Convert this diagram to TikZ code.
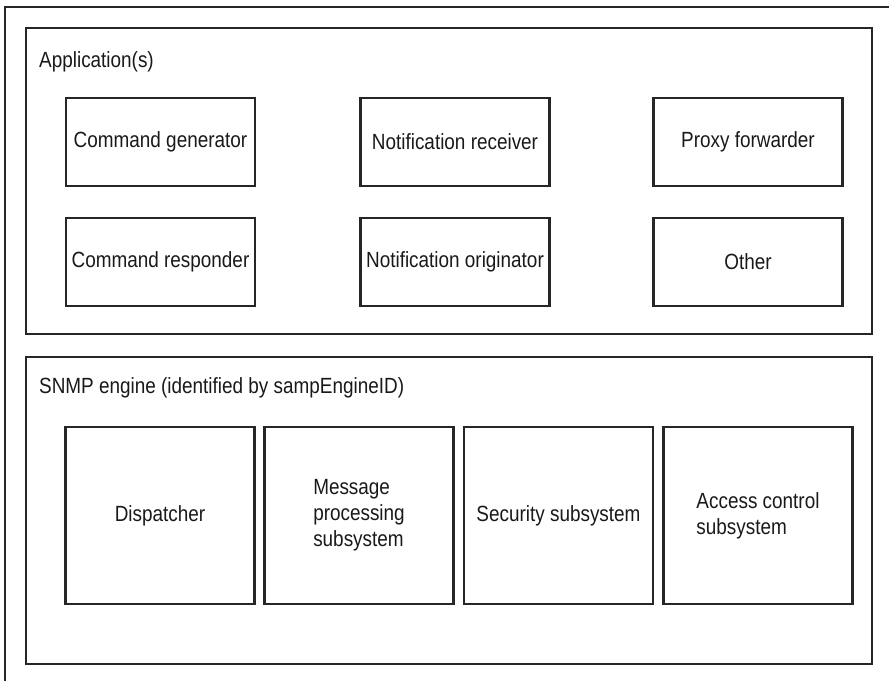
\documentclass[tikz,border=0pt]{standalone}
\usepackage{fontspec}
\setmainfont{Liberation Sans}[FakeStretch=0.86]
\begin{document}
\begin{tikzpicture}[x=1pt,y=-1pt,
        frame/.style={draw=black!85, line width=2.5pt},
        box/.style={frame, text=black!90, minimum width=189pt, minimum height=88pt, inner sep=0pt, font=\fontsize{22}{26}\selectfont},
        unit/.style={box, minimum height=177pt, align=left},
        caption/.style={anchor=west, inner sep=0pt, text=black!90, font=\fontsize{22}{26}\selectfont}]
        \useasboundingbox (0,0) rectangle (889,681);
        \draw[frame] (5,681) -- (5,7) -- (889,7);

        %Applications
        \draw[frame] (26,28) rectangle (872,334);
        \node[caption] (apps) at (39,62) {Application(s)};
        \node[box] (cmdgen) at (160.5,142) {Command generator};
        \node[box] (notrecv) at (455,142) {Notification receiver};
        \node[box] (proxy) at (748,142) {Proxy forwarder};
        \node[box] (cmdresp) at (160.5,262) {Command responder};
        \node[box] (notorig) at (455,262) {Notification originator};
        \node[box] (other) at (748,262) {Other};

        %SNMP engine
        \draw[frame] (26,357) rectangle (872,664);
        \node[caption] (engine) at (39,388) {SNMP engine (identified by sampEngineID)};
        \node[unit] (disp) at (160,515.5) {Dispatcher};
        \node[unit] (msgproc) at (359,515.5) {Message\\processing\\subsystem};
        \node[unit] (secsub) at (558.5,515.5) {Security subsystem};
        \node[unit] (acsub) at (758,515.5) {Access control\\subsystem};
    \end{tikzpicture}
\end{document}
